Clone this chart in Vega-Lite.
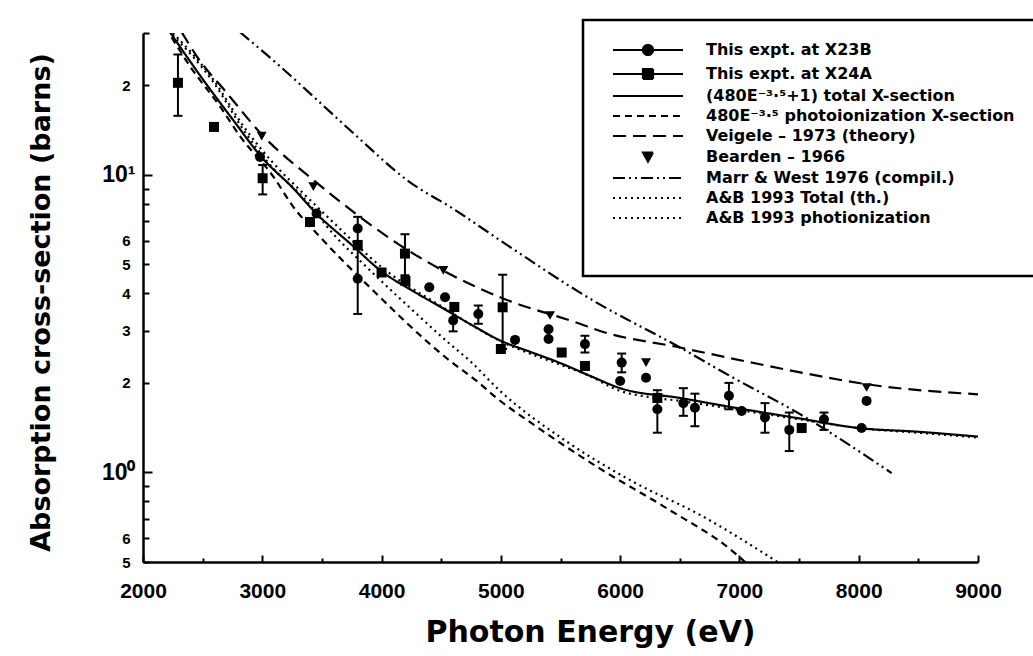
{
  "$schema": "https://vega.github.io/schema/vega-lite/v6.json",
  "width": 835,
  "height": 529,
  "autosize": {"type": "none"},
  "padding": {"left": 143, "top": 33, "right": 55, "bottom": 94},
  "background": "white",
  "config": {"view": {"stroke": null}, "font": "Liberation Sans"},
  "datasets": {
    "lines": [
      {"series": "(480E⁻³·⁵+1) total X-section", "E": 2226, "s": 30.2},
      {"series": "(480E⁻³·⁵+1) total X-section", "E": 2500, "s": 21.0},
      {"series": "(480E⁻³·⁵+1) total X-section", "E": 2750, "s": 15.4},
      {"series": "(480E⁻³·⁵+1) total X-section", "E": 3000, "s": 11.4},
      {"series": "(480E⁻³·⁵+1) total X-section", "E": 3250, "s": 9.1},
      {"series": "(480E⁻³·⁵+1) total X-section", "E": 3450, "s": 7.44},
      {"series": "(480E⁻³·⁵+1) total X-section", "E": 3750, "s": 5.82},
      {"series": "(480E⁻³·⁵+1) total X-section", "E": 4000, "s": 4.74},
      {"series": "(480E⁻³·⁵+1) total X-section", "E": 4250, "s": 4.1},
      {"series": "(480E⁻³·⁵+1) total X-section", "E": 4500, "s": 3.59},
      {"series": "(480E⁻³·⁵+1) total X-section", "E": 4750, "s": 3.14},
      {"series": "(480E⁻³·⁵+1) total X-section", "E": 5000, "s": 2.77},
      {"series": "(480E⁻³·⁵+1) total X-section", "E": 5250, "s": 2.54},
      {"series": "(480E⁻³·⁵+1) total X-section", "E": 5500, "s": 2.33},
      {"series": "(480E⁻³·⁵+1) total X-section", "E": 5750, "s": 2.11},
      {"series": "(480E⁻³·⁵+1) total X-section", "E": 6000, "s": 1.92},
      {"series": "(480E⁻³·⁵+1) total X-section", "E": 6500, "s": 1.78},
      {"series": "(480E⁻³·⁵+1) total X-section", "E": 7000, "s": 1.64},
      {"series": "(480E⁻³·⁵+1) total X-section", "E": 7500, "s": 1.52},
      {"series": "(480E⁻³·⁵+1) total X-section", "E": 8000, "s": 1.41},
      {"series": "(480E⁻³·⁵+1) total X-section", "E": 8500, "s": 1.37},
      {"series": "(480E⁻³·⁵+1) total X-section", "E": 9000, "s": 1.32},
      {"series": "480E⁻³·⁵ photoionization X-section", "E": 2240, "s": 29},
      {"series": "480E⁻³·⁵ photoionization X-section", "E": 2394, "s": 23.2},
      {"series": "480E⁻³·⁵ photoionization X-section", "E": 2645, "s": 17.0},
      {"series": "480E⁻³·⁵ photoionization X-section", "E": 2813, "s": 13.5},
      {"series": "480E⁻³·⁵ photoionization X-section", "E": 3093, "s": 9.87},
      {"series": "480E⁻³·⁵ photoionization X-section", "E": 3260, "s": 7.81},
      {"series": "480E⁻³·⁵ photoionization X-section", "E": 3484, "s": 6.19},
      {"series": "480E⁻³·⁵ photoionization X-section", "E": 3959, "s": 3.98},
      {"series": "480E⁻³·⁵ photoionization X-section", "E": 4406, "s": 2.70},
      {"series": "480E⁻³·⁵ photoionization X-section", "E": 4546, "s": 2.42},
      {"series": "480E⁻³·⁵ photoionization X-section", "E": 4797, "s": 2.03},
      {"series": "480E⁻³·⁵ photoionization X-section", "E": 4964, "s": 1.78},
      {"series": "480E⁻³·⁵ photoionization X-section", "E": 5272, "s": 1.45},
      {"series": "480E⁻³·⁵ photoionization X-section", "E": 5831, "s": 1.03},
      {"series": "480E⁻³·⁵ photoionization X-section", "E": 6390, "s": 0.758},
      {"series": "480E⁻³·⁵ photoionization X-section", "E": 6949, "s": 0.541},
      {"series": "480E⁻³·⁵ photoionization X-section", "E": 7061, "s": 0.494},
      {"series": "Veigele – 1973 (theory)", "E": 2324, "s": 30.2},
      {"series": "Veigele – 1973 (theory)", "E": 2450, "s": 25.1},
      {"series": "Veigele – 1973 (theory)", "E": 2701, "s": 18.9},
      {"series": "Veigele – 1973 (theory)", "E": 3009, "s": 13.5},
      {"series": "Veigele – 1973 (theory)", "E": 3428, "s": 9.62},
      {"series": "Veigele – 1973 (theory)", "E": 4266, "s": 5.44},
      {"series": "Veigele – 1973 (theory)", "E": 4993, "s": 3.88},
      {"series": "Veigele – 1973 (theory)", "E": 5663, "s": 3.16},
      {"series": "Veigele – 1973 (theory)", "E": 5831, "s": 2.99},
      {"series": "Veigele – 1973 (theory)", "E": 6500, "s": 2.63},
      {"series": "Veigele – 1973 (theory)", "E": 7172, "s": 2.31},
      {"series": "Veigele – 1973 (theory)", "E": 7508, "s": 2.17},
      {"series": "Veigele – 1973 (theory)", "E": 8065, "s": 1.98},
      {"series": "Veigele – 1973 (theory)", "E": 9002, "s": 1.83},
      {"series": "Marr & West 1976 (compil.)", "E": 2813, "s": 30.2},
      {"series": "Marr & West 1976 (compil.)", "E": 3148, "s": 23.2},
      {"series": "Marr & West 1976 (compil.)", "E": 3484, "s": 17.5},
      {"series": "Marr & West 1976 (compil.)", "E": 3791, "s": 13.5},
      {"series": "Marr & West 1976 (compil.)", "E": 4230, "s": 9.5},
      {"series": "Marr & West 1976 (compil.)", "E": 4600, "s": 7.7},
      {"series": "Marr & West 1976 (compil.)", "E": 4993, "s": 6.03},
      {"series": "Marr & West 1976 (compil.)", "E": 5775, "s": 3.78},
      {"series": "Marr & West 1976 (compil.)", "E": 6502, "s": 2.63},
      {"series": "Marr & West 1976 (compil.)", "E": 6949, "s": 2.08},
      {"series": "Marr & West 1976 (compil.)", "E": 7508, "s": 1.57},
      {"series": "Marr & West 1976 (compil.)", "E": 8276, "s": 0.995},
      {"series": "A&B 1993 Total (th.)", "E": 2250, "s": 30},
      {"series": "A&B 1993 Total (th.)", "E": 2590, "s": 20.9},
      {"series": "A&B 1993 Total (th.)", "E": 2841, "s": 14.6},
      {"series": "A&B 1993 Total (th.)", "E": 3093, "s": 10.95},
      {"series": "A&B 1993 Total (th.)", "E": 3344, "s": 8.67},
      {"series": "A&B 1993 Total (th.)", "E": 3600, "s": 6.9},
      {"series": "A&B 1993 Total (th.)", "E": 4000, "s": 4.9},
      {"series": "A&B 1993 Total (th.)", "E": 4500, "s": 3.62},
      {"series": "A&B 1993 Total (th.)", "E": 5000, "s": 2.76},
      {"series": "A&B 1993 Total (th.)", "E": 5500, "s": 2.3},
      {"series": "A&B 1993 Total (th.)", "E": 5700, "s": 2.15},
      {"series": "A&B 1993 Total (th.)", "E": 6000, "s": 1.88},
      {"series": "A&B 1993 Total (th.)", "E": 6300, "s": 1.78},
      {"series": "A&B 1993 Total (th.)", "E": 6500, "s": 1.74},
      {"series": "A&B 1993 Total (th.)", "E": 7000, "s": 1.62},
      {"series": "A&B 1993 Total (th.)", "E": 7500, "s": 1.51},
      {"series": "A&B 1993 Total (th.)", "E": 8000, "s": 1.41},
      {"series": "A&B 1993 Total (th.)", "E": 8500, "s": 1.36},
      {"series": "A&B 1993 Total (th.)", "E": 9000, "s": 1.31},
      {"series": "A&B 1993 photionization", "E": 2250, "s": 29.5},
      {"series": "A&B 1993 photionization", "E": 2590, "s": 20.5},
      {"series": "A&B 1993 photionization", "E": 2841, "s": 14.2},
      {"series": "A&B 1993 photionization", "E": 3093, "s": 10.5},
      {"series": "A&B 1993 photionization", "E": 3344, "s": 8.4},
      {"series": "A&B 1993 photionization", "E": 3600, "s": 6.3},
      {"series": "A&B 1993 photionization", "E": 3875, "s": 4.9},
      {"series": "A&B 1993 photionization", "E": 4294, "s": 3.41},
      {"series": "A&B 1993 photionization", "E": 4574, "s": 2.70},
      {"series": "A&B 1993 photionization", "E": 4741, "s": 2.37},
      {"series": "A&B 1993 photionization", "E": 4993, "s": 1.88},
      {"series": "A&B 1993 photionization", "E": 5552, "s": 1.27},
      {"series": "A&B 1993 photionization", "E": 6110, "s": 0.93},
      {"series": "A&B 1993 photionization", "E": 6669, "s": 0.72},
      {"series": "A&B 1993 photionization", "E": 7340, "s": 0.494}
    ],
    "pts": [
      {"series": "This expt. at X23B", "E": 2981, "s": 11.5},
      {"series": "This expt. at X23B", "E": 3455, "s": 7.42},
      {"series": "This expt. at X23B", "E": 3800, "s": 6.61},
      {"series": "This expt. at X23B", "E": 3800, "s": 4.48},
      {"series": "This expt. at X23B", "E": 4400, "s": 4.19},
      {"series": "This expt. at X23B", "E": 4532, "s": 3.88},
      {"series": "This expt. at X23B", "E": 4600, "s": 3.24},
      {"series": "This expt. at X23B", "E": 4811, "s": 3.41},
      {"series": "This expt. at X23B", "E": 5119, "s": 2.79},
      {"series": "This expt. at X23B", "E": 5400, "s": 3.03},
      {"series": "This expt. at X23B", "E": 5400, "s": 2.81},
      {"series": "This expt. at X23B", "E": 5705, "s": 2.70},
      {"series": "This expt. at X23B", "E": 6013, "s": 2.34},
      {"series": "This expt. at X23B", "E": 6000, "s": 2.03},
      {"series": "This expt. at X23B", "E": 6217, "s": 2.08},
      {"series": "This expt. at X23B", "E": 6312, "s": 1.63},
      {"series": "This expt. at X23B", "E": 6530, "s": 1.71},
      {"series": "This expt. at X23B", "E": 6627, "s": 1.65},
      {"series": "This expt. at X23B", "E": 6912, "s": 1.81},
      {"series": "This expt. at X23B", "E": 7019, "s": 1.61},
      {"series": "This expt. at X23B", "E": 7214, "s": 1.53},
      {"series": "This expt. at X23B", "E": 7418, "s": 1.39},
      {"series": "This expt. at X23B", "E": 7709, "s": 1.51},
      {"series": "This expt. at X23B", "E": 8024, "s": 1.41},
      {"series": "This expt. at X23B", "E": 8066, "s": 1.74},
      {"series": "This expt. at X24A", "E": 2293, "s": 20.4},
      {"series": "This expt. at X24A", "E": 2595, "s": 14.5},
      {"series": "This expt. at X24A", "E": 3003, "s": 9.75},
      {"series": "This expt. at X24A", "E": 3400, "s": 6.95},
      {"series": "This expt. at X24A", "E": 3800, "s": 5.80},
      {"series": "This expt. at X24A", "E": 4000, "s": 4.7},
      {"series": "This expt. at X24A", "E": 4196, "s": 5.44},
      {"series": "This expt. at X24A", "E": 4200, "s": 4.40},
      {"series": "This expt. at X24A", "E": 4610, "s": 3.6},
      {"series": "This expt. at X24A", "E": 5015, "s": 3.59},
      {"series": "This expt. at X24A", "E": 5000, "s": 2.60},
      {"series": "This expt. at X24A", "E": 5510, "s": 2.53},
      {"series": "This expt. at X24A", "E": 5705, "s": 2.28},
      {"series": "This expt. at X24A", "E": 6312, "s": 1.78},
      {"series": "This expt. at X24A", "E": 7522, "s": 1.41},
      {"series": "Bearden – 1966", "E": 2995, "s": 13.5},
      {"series": "Bearden – 1966", "E": 3428, "s": 9.13},
      {"series": "Bearden – 1966", "E": 4518, "s": 4.78},
      {"series": "Bearden – 1966", "E": 5412, "s": 3.37},
      {"series": "Bearden – 1966", "E": 6217, "s": 2.34},
      {"series": "Bearden – 1966", "E": 8066, "s": 1.93}
    ],
    "errs": [
      {"E": 2293, "lo": 15.8, "hi": 25.4},
      {"E": 3003, "lo": 8.6, "hi": 10.8},
      {"E": 3800, "lo": 6.0, "hi": 7.23},
      {"E": 3800, "lo": 3.41, "hi": 5.88},
      {"E": 4196, "lo": 4.6, "hi": 6.32},
      {"E": 4600, "lo": 2.98, "hi": 3.5},
      {"E": 4811, "lo": 3.16, "hi": 3.64},
      {"E": 5015, "lo": 2.6, "hi": 4.62},
      {"E": 5705, "lo": 2.53, "hi": 2.88},
      {"E": 6013, "lo": 2.17, "hi": 2.51},
      {"E": 6312, "lo": 1.36, "hi": 1.89},
      {"E": 6530, "lo": 1.55, "hi": 1.92},
      {"E": 6627, "lo": 1.43, "hi": 1.84},
      {"E": 6912, "lo": 1.63, "hi": 2.0},
      {"E": 7214, "lo": 1.36, "hi": 1.71},
      {"E": 7418, "lo": 1.18, "hi": 1.59},
      {"E": 7709, "lo": 1.39, "hi": 1.59}
    ]
  },
  "encoding": {
    "x": {
      "field": "E", "type": "quantitative",
      "title": "Photon Energy (eV)",
      "scale": {"domain": [2000, 9000], "nice": false, "zero": false},
      "axis": {
        "values": [2000, 2500, 3000, 3500, 4000, 4500, 5000, 5500, 6000, 6500, 7000, 7500, 8000, 8500, 9000],
        "labelExpr": "datum.value % 1000 == 0 ? format(datum.value, 'd') : ''",
        "labelFlush": false, "labelOverlap": false, "grid": false,
        "tickSize": {"condition": {"test": "datum.value % 1000 == 0", "value": -7}, "value": -4},
        "tickWidth": 2, "tickColor": "black",
        "domainWidth": 2.5, "domainColor": "black",
        "labelFont": "Liberation Sans", "labelFontWeight": "bold", "labelFontSize": 21, "labelColor": "black",
        "labelPadding": 25,
        "titleFont": "DejaVu Sans", "titleFontWeight": "bold", "titleFontSize": 30, "titleColor": "black",
        "titleX": 447, "titleY": 70, "titleBaseline": "middle"
      }
    }
  },
  "layer": [
    {
      "data": {"name": "lines"},
      "mark": {"type": "line", "color": "black", "strokeWidth": 2.2, "clip": true, "interpolate": "monotone"},
      "encoding": {
        "y": {
          "field": "s", "type": "quantitative",
          "title": "Absorption cross-section (barns)",
          "scale": {"type": "log", "domain": [0.5, 30], "nice": false},
          "axis": {
            "values": [0.5, 0.6, 0.7, 0.8, 0.9, 1, 2, 3, 4, 5, 6, 7, 8, 9, 10, 20, 30],
            "labelExpr": "datum.value == 10 ? '10¹' : datum.value == 1 ? '10⁰' : datum.value == 20 ? '2' : datum.value == 0.6 ? '6' : datum.value == 0.5 ? '5' : (datum.value >= 2 && datum.value <= 6) ? format(datum.value, 'd') : ''",
            "labelOverlap": false, "grid": false,
            "tickSize": {"condition": {"test": "datum.value == 10 || datum.value == 1", "value": -9}, "value": -6},
            "tickWidth": 2, "tickColor": "black",
            "domainWidth": 2.5, "domainColor": "black",
            "labelFont": "Liberation Sans", "labelFontWeight": "bold", "labelColor": "black",
            "labelFontSize": {"condition": {"test": "datum.value == 10 || datum.value == 1", "value": 23}, "value": 15},
            "labelPadding": {"condition": {"test": "datum.value == 10 || datum.value == 1", "value": 17}, "value": 19},
            "titleFont": "DejaVu Sans", "titleFontWeight": "bold", "titleFontSize": 27, "titleColor": "black",
            "titleX": -102, "titleY": 269, "titleBaseline": "middle"
          }
        },
        "strokeDash": {
          "field": "series", "type": "nominal",
          "scale": {
            "domain": ["This expt. at X23B", "This expt. at X24A", "(480E⁻³·⁵+1) total X-section", "480E⁻³·⁵ photoionization X-section", "Veigele – 1973 (theory)", "Bearden – 1966", "Marr & West 1976 (compil.)", "A&B 1993 Total (th.)", "A&B 1993 photionization"],
            "range": [[1, 0], [1, 0], [1, 0], [7, 5], [13, 7], [1, 0], [12, 4, 2, 4, 2, 4], [2, 4], [2, 4]]
          },
          "legend": {
            "title": "\u00a0", "titleOrient": "bottom", "titlePadding": 18, "titleFontSize": 10,
            "orient": "none", "legendX": 440, "legendY": -13,
            "direction": "vertical",
            "strokeColor": "black", "padding": 22,
            "labelFont": "DejaVu Sans", "labelFontSize": 16, "labelFontWeight": "bold", "labelColor": "black",
            "labelOffset": 85, "rowPadding": 4, "labelLimit": 400,
            "symbolSize": 100, "symbolStrokeWidth": 2.2, "symbolStrokeColor": "black",
            "encode": {
              "legend": {"update": {"strokeWidth": {"value": 2.5}}},
              "symbols": {"update": {
                "shape": {"signal": "datum.value == 'This expt. at X23B' ? 'M0,0L14,0M6,0A1,1 0 1,0 8,0A1,1 0 1,0 6,0Z' : datum.value == 'This expt. at X24A' ? 'M0,0L14,0M6,-1L8,-1L8,1L6,1Z' : datum.value == 'Bearden – 1966' ? 'M6,-0.9L8,-0.9L7,0.9Z' : 'M0,0L14,0'"},
                "fill": {"value": "black"},
                "stroke": {"value": "black"}
              }}
            }
          }
        }
      }
    },
    {
      "data": {"name": "errs"},
      "mark": {"type": "rule", "color": "black", "strokeWidth": 2},
      "encoding": {
        "y": {"field": "lo", "type": "quantitative", "title": "Absorption cross-section (barns)"},
        "y2": {"field": "hi"}
      }
    },
    {
      "data": {"name": "errs"},
      "mark": {"type": "tick", "orient": "horizontal", "color": "black", "size": 9, "thickness": 2, "opacity": 1},
      "encoding": {
        "y": {"field": "lo", "type": "quantitative", "title": "Absorption cross-section (barns)"}
      }
    },
    {
      "data": {"name": "errs"},
      "mark": {"type": "tick", "orient": "horizontal", "color": "black", "size": 9, "thickness": 2, "opacity": 1},
      "encoding": {
        "y": {"field": "hi", "type": "quantitative", "title": "Absorption cross-section (barns)"}
      }
    },
    {
      "data": {"name": "pts"},
      "mark": {"type": "point", "filled": true, "color": "black", "opacity": 1, "size": 100},
      "encoding": {
        "y": {"field": "s", "type": "quantitative", "title": "Absorption cross-section (barns)"},
        "shape": {
          "field": "series", "type": "nominal",
          "scale": {"domain": ["This expt. at X23B", "This expt. at X24A", "Bearden – 1966"], "range": ["circle", "square", "triangle-down"]},
          "legend": null
        }
      }
    }
  ]
}
